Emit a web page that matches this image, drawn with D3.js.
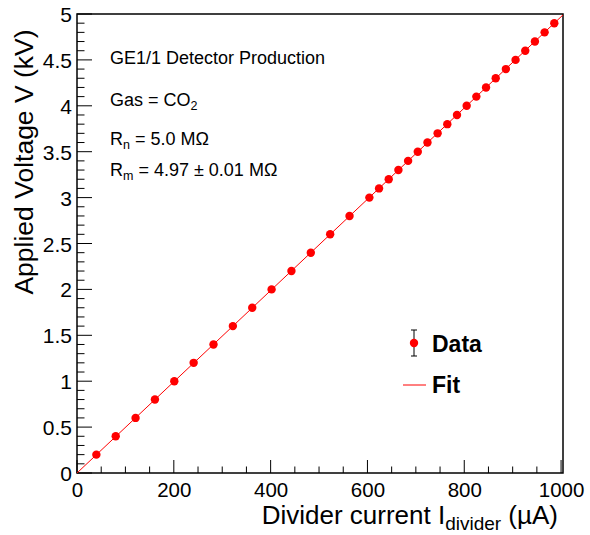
<!DOCTYPE html>
<html><head><meta charset="utf-8">
<script src="https://cdn.jsdelivr.net/npm/d3@7"></script>
<style>body{margin:0;background:#fff}svg{display:block}text{font-family:"Liberation Sans",Arial,Helvetica,sans-serif}</style>
</head><body><svg id="c" width="590" height="535"></svg>
<script>
// Data: applied voltage (kV) vs divider current (uA)
const voltage = [0.2,0.4,0.6,0.8,1.0,1.2,1.4,1.6,1.8,2.0,2.2,2.4,2.6,2.8,3.0,
  3.1,3.2,3.3,3.4,3.5,3.6,3.7,3.8,3.9,4.0,4.1,4.2,4.3,4.4,4.5,4.6,4.7,4.8,4.9];
const current = [40,80,121,161,201,241,282,322,362,402,443,483,523,563,604,
  624,644,664,684,704,724,745,765,785,805,825,845,865,886,906,926,946,966,986];
const fitSlope = 4.97e-3; // kV per uA (R = 4.97 MOhm)
const fitOffset = 0;
const xTicks = [0,200,400,600,800,1000];
const yTicks = [0,0.5,1,1.5,2,2.5,3,3.5,4,4.5,5];
const infoLines = ["GE1/1 Detector Production"];

const svg = d3.select("#c");
const L = 77, R = 563, T = 14, B = 473;
const x = d3.scaleLinear().domain([0, 1004]).range([L, R]);
const y = d3.scaleLinear().domain([0, 5]).range([B, T]);

// frame
svg.append("rect").attr("x", L).attr("y", T).attr("width", R - L).attr("height", B - T)
  .attr("fill", "none").attr("stroke", "#000").attr("stroke-width", 1.5);

// x axis
const xAxis = d3.axisBottom(x).tickValues(xTicks).tickSize(0).tickPadding(0).tickFormat(d3.format("d"));
const gx = svg.append("g").attr("transform", `translate(0,${B})`).call(xAxis);
gx.select(".domain").remove();
gx.selectAll("text").attr("font-size", 20.5).attr("y", 0).attr("dy", 24).attr("fill", "#000");
const xMinor = d3.range(0, 1001, 50);
svg.append("g").selectAll("line").data(xMinor).join("line")
  .attr("x1", d => x(d)).attr("x2", d => x(d))
  .attr("y1", B).attr("y2", d => B - (d % 200 === 0 ? 13 : 6.5))
  .attr("stroke", "#000").attr("stroke-width", 1);

// y axis
const yAxis = d3.axisLeft(y).tickValues(yTicks).tickSize(0).tickPadding(5)
  .tickFormat(d => d === 0 ? "0" : d3.format("")(d));
const gy = svg.append("g").attr("transform", `translate(${L},0)`).call(yAxis);
gy.select(".domain").remove();
gy.selectAll("text").attr("font-size", 21).attr("dy", "0.36em").attr("fill", "#000");
const yMinor = d3.range(0, 51).map(d => d / 10);
svg.append("g").selectAll("line").data(yMinor).join("line")
  .attr("x1", L).attr("x2", (d, i) => L + (i % 5 === 0 ? 15 : 7.5))
  .attr("y1", d => y(d)).attr("y2", d => y(d))
  .attr("stroke", "#000").attr("stroke-width", 1);

// fit line
const fitX = [0, 1004];
svg.append("clipPath").attr("id", "clip").append("rect")
  .attr("x", L).attr("y", T).attr("width", R - L).attr("height", B - T);
svg.append("path")
  .attr("d", d3.line().x(d => x(d)).y(d => y(fitOffset + fitSlope * d))(fitX))
  .attr("stroke", "#ff0000").attr("stroke-width", 1).attr("fill", "none")
  .attr("clip-path", "url(#clip)");

// data points
svg.append("g").selectAll("circle").data(current).join("circle")
  .attr("cx", d => x(d)).attr("cy", (d, i) => y(voltage[i])).attr("r", 4.2)
  .attr("fill", "#ff0000");

// info text
const info = svg.append("g").attr("font-size", 18).attr("fill", "#000");
info.append("text").attr("x", 110).attr("y", 64).text(infoLines[0]);
const t2 = info.append("text").attr("x", 110).attr("y", 106);
t2.append("tspan").text("Gas = CO");
t2.append("tspan").attr("font-size", 12.5).attr("dy", 4).text("2");
const t3 = info.append("text").attr("x", 110).attr("y", 145);
t3.append("tspan").text("R");
t3.append("tspan").attr("font-size", 12.5).attr("dy", 4).text("n");
t3.append("tspan").attr("dy", -4).text(" = 5.0 MΩ");
const t4 = info.append("text").attr("x", 110).attr("y", 176);
t4.append("tspan").text("R");
t4.append("tspan").attr("font-size", 12.5).attr("dy", 4).text("m");
t4.append("tspan").attr("dy", -4).text(" = 4.97 ± 0.01 MΩ");

// legend
const lg = svg.append("g");
lg.append("line").attr("x1", 414).attr("x2", 414).attr("y1", 330).attr("y2", 356).attr("stroke", "#000").attr("stroke-width", 1);
lg.append("line").attr("x1", 411).attr("x2", 417).attr("y1", 330).attr("y2", 330).attr("stroke", "#000");
lg.append("line").attr("x1", 411).attr("x2", 417).attr("y1", 356).attr("y2", 356).attr("stroke", "#000");
lg.append("circle").attr("cx", 414).attr("cy", 343).attr("r", 4.2).attr("fill", "#ff0000");
lg.append("text").attr("x", 432).attr("y", 352).attr("font-size", 23).attr("font-weight", "bold").text("Data");
lg.append("line").attr("x1", 403).attr("x2", 426).attr("y1", 385).attr("y2", 385).attr("stroke", "#ff0000").attr("stroke-width", 1);
lg.append("text").attr("x", 432).attr("y", 393).attr("font-size", 23).attr("font-weight", "bold").text("Fit");

// axis titles
const xt = svg.append("text").attr("x", 558).attr("y", 524).attr("text-anchor", "end").attr("font-size", 26);
xt.append("tspan").text("Divider current I");
xt.append("tspan").attr("font-size", 19).attr("dy", 6).text("divider");
xt.append("tspan").attr("dy", -6).text(" (µA)");
svg.append("text").attr("transform", "translate(33,162) rotate(-90)")
  .attr("text-anchor", "middle").attr("font-size", 26.5).text("Applied Voltage V (kV)");
</script></body></html>
